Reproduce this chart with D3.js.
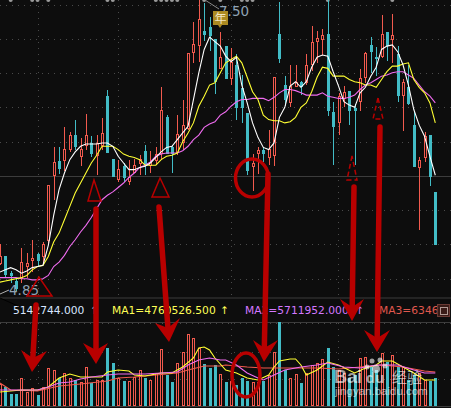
<!DOCTYPE html>
<html>
<head>
<meta charset="utf-8">
<script src="https://cdn.jsdelivr.net/npm/d3@7/dist/d3.min.js"></script>
<style>
  html, body { margin: 0; padding: 0; background: #0d0d0d; overflow: hidden; }
  svg { display: block; }
</style>
</head>
<body>
<div id="chart"></div>
<script>
//values, first bar is index -1 (cut by the left edge)
const opens = [5.10,5.16,5.01,4.94,4.97,5.07,5.13,5.18,5.16,5.31,5.89,6.02,6.03,6.12,6.25,6.07,6.16,6.18,6.07,6.16,6.60,6.04,5.86,5.97,5.83,5.92,6.00,6.11,5.98,6.03,6.09,6.41,6.14,6.10,6.19,6.32,7.00,7.06,7.19,7.22,7.11,6.85,7.05,6.77,6.88,6.67,6.45,5.97,6.09,6.12,6.06,6.07,7.16,6.70,6.55,6.69,6.73,6.73,6.89,7.09,7.11,7.16,6.46,6.37,6.59,6.65,6.49,6.55,6.77,7.06,6.95,6.96,7.18,7.11,6.98,6.61,6.68,6.34,5.97,6.05,6.25,5.74];
const closes = [5.16,5.00,4.99,4.88,5.11,5.10,5.15,5.13,5.27,5.80,6.01,5.96,6.13,6.25,6.15,6.13,6.25,6.09,6.18,6.27,6.10,5.89,5.95,5.87,5.87,5.98,6.04,5.98,6.01,6.08,6.48,6.09,6.09,6.26,6.34,6.99,7.07,7.29,7.16,7.15,6.73,6.95,6.76,6.91,6.50,6.50,5.94,6.00,6.12,6.09,6.13,6.77,6.94,6.57,6.69,6.73,6.69,6.88,7.09,7.12,7.15,6.48,6.33,6.60,6.64,6.48,6.47,6.76,6.99,7.01,6.94,7.16,7.06,7.15,6.61,6.73,6.54,5.97,6.03,6.24,5.88,5.27];
const highs = [5.27,5.16,5.03,4.97,5.24,5.19,5.31,5.19,5.29,5.80,6.14,6.14,6.32,6.28,6.39,6.22,6.44,6.24,6.25,6.40,6.66,6.04,6.03,6.00,6.03,6.04,6.07,6.16,6.11,6.14,6.68,6.43,6.16,6.43,6.57,6.99,7.27,7.50,7.44,7.31,7.11,7.18,7.05,7.03,6.98,6.79,6.45,6.08,6.14,6.14,6.30,6.77,7.45,6.78,6.88,6.88,6.74,6.98,7.23,7.19,7.20,7.48,6.55,6.63,6.69,6.65,6.53,6.84,7.00,7.13,7.04,7.33,7.18,7.34,7.05,6.75,6.88,6.46,6.05,6.28,6.25,5.74];
const lows = [5.08,4.97,4.92,4.85,4.92,4.97,5.02,5.07,5.08,5.28,5.67,5.90,5.93,6.10,6.12,5.97,6.12,6.05,5.89,6.12,6.09,5.87,5.83,5.83,5.80,5.91,5.89,5.89,5.91,5.98,6.03,6.09,5.91,6.07,6.12,6.30,6.90,6.91,7.10,7.01,6.62,6.84,6.76,6.70,6.39,6.36,5.89,5.75,5.90,6.01,5.98,5.97,6.90,6.51,6.50,6.68,6.61,6.70,6.83,6.90,6.97,6.42,5.98,6.25,6.50,6.34,5.98,6.47,6.72,6.81,6.78,6.94,6.92,6.90,6.55,6.29,6.52,5.97,5.40,6.01,5.79,5.27];

const priceMa5 = [5.02,5.04,5.06,5.04,5.01,5.03,5.06,5.07,5.08,5.26,5.53,5.76,5.91,6.03,6.10,6.15,6.17,6.17,6.17,6.18,6.18,6.15,6.06,6.00,5.94,5.94,5.96,5.97,6.00,6.05,6.10,6.14,6.15,6.21,6.27,6.33,6.57,6.81,7.02,7.13,7.09,7.05,6.96,6.91,6.95,6.70,6.54,6.36,6.23,6.14,6.12,6.18,6.41,6.50,6.69,6.73,6.68,6.73,6.86,6.95,6.97,6.96,6.82,6.69,6.55,6.52,6.50,6.63,6.68,6.78,6.86,7.02,7.05,7.06,7.00,6.88,6.70,6.48,6.34,6.24,6.06,5.89];
const priceMa10 = [4.93,4.94,4.95,4.96,4.97,4.99,5.04,5.07,5.08,5.16,5.29,5.37,5.49,5.61,5.73,5.82,5.91,6.00,6.07,6.15,6.15,6.15,6.12,6.08,6.06,6.05,6.03,5.98,5.98,5.98,6.03,6.06,6.07,6.09,6.19,6.27,6.36,6.51,6.60,6.70,6.72,6.81,6.90,6.93,6.96,6.90,6.77,6.64,6.57,6.43,6.39,6.38,6.38,6.36,6.37,6.41,6.50,6.54,6.64,6.77,6.86,6.85,6.78,6.78,6.78,6.75,6.73,6.72,6.70,6.70,6.68,6.75,6.82,6.87,6.87,6.89,6.90,6.75,6.68,6.63,6.54,6.36];
const priceMa20 = [4.97,4.97,4.97,4.97,4.96,4.96,4.95,4.95,4.96,4.99,5.07,5.11,5.17,5.25,5.31,5.38,5.44,5.51,5.59,5.67,5.71,5.74,5.78,5.82,5.87,5.91,5.96,5.98,6.01,6.06,6.08,6.09,6.09,6.09,6.11,6.15,6.21,6.25,6.32,6.35,6.37,6.43,6.46,6.51,6.55,6.57,6.57,6.58,6.58,6.58,6.56,6.59,6.63,6.66,6.66,6.65,6.63,6.61,6.61,6.61,6.63,6.60,6.59,6.58,6.58,6.59,6.61,6.66,6.70,6.72,6.75,6.78,6.79,6.81,6.82,6.82,6.79,6.76,6.70,6.64,6.60,6.54];

//volume in millions
const volumes = [3.99,3.42,2.09,2.09,5.13,2.47,3.23,1.90,3.42,7.03,6.65,5.13,6.08,5.13,4.75,4.37,7.22,4.18,4.75,4.75,10.83,7.98,5.13,4.56,4.56,5.32,6.65,5.13,4.75,6.08,10.64,5.70,4.37,7.98,10.07,13.49,12.73,10.83,7.79,7.03,7.60,5.89,4.37,4.56,3.80,5.13,4.56,4.37,4.37,4.56,5.70,10.07,15.77,6.65,5.13,5.89,4.18,6.08,7.60,7.98,8.74,10.83,7.22,6.65,6.08,5.13,5.70,8.93,9.12,7.22,6.65,9.88,8.17,9.50,7.22,7.22,4.75,5.70,6.08,4.75,4.56,5.13];
const volMa1Bars = [-1,3,6,8,10,12,14,15,18,19,21,23,24,26,28,29,31,33,35,36,37,38,39,41,43,45,47,49,50,51,53,54,55,56,58,60,62,65,67,69,70,72,74,76,78,80];
const volMa1 = [2.47,2.85,2.85,3.42,5.13,5.89,5.32,5.32,5.32,6.27,6.65,6.46,5.70,5.51,5.89,6.08,6.08,7.22,8.93,10.83,11.02,10.45,8.93,6.65,6.08,5.13,4.75,5.70,7.22,8.36,8.74,8.74,7.60,5.70,6.65,8.17,7.60,6.08,7.03,7.60,8.36,8.36,7.22,6.08,4.75,4.75];
const volMa2Bars = [-1,3,6,8,10,12,14,16,19,21,24,26,29,32,34,36,38,40,41,43,45,47,48,50,52,55,58,60,63,66,69,73,76,78,80];
const volMa2 = [2.85,2.85,2.85,3.42,4.18,4.37,4.94,5.32,5.70,5.89,5.89,5.89,6.08,6.27,7.60,8.55,8.93,8.55,8.55,7.60,6.08,5.13,4.75,5.70,6.65,7.22,7.60,7.98,7.22,7.03,7.60,7.60,6.65,6.08,6.08];
const volMa3Bars = [-1,1,6,10,14,19,21,24,28,32,34,37,40,41,45,48,51,55,58,62,66,70,74,78,80];
const volMa3 = [4.18,2.85,2.66,3.61,3.99,4.56,5.13,5.32,5.70,6.08,6.65,7.41,7.41,7.60,7.22,7.03,7.03,7.03,7.03,6.84,7.22,7.60,7.22,6.46,6.27];

//bars that carry a small grey marker at the top edge
const markerBars = [1,5,6,8,19,20,28,29,30,31,32,37,40,44,45,46,60,72];

const legendLabels = ["5142744.000", "MA1=4760526.500", "MA2=5711952.000", "MA3=6346"];

const width = 451, height = 408;
const RED = "#f25a4e", CYAN = "#42bcc6", BG = "#0d0d0d", DARK_RED = "#b80000";

const svg = d3.select("#chart").append("svg")
  .attr("width", width)
  .attr("height", height)
  .style("font-family", "'DejaVu Sans', sans-serif");

svg.append("rect").attr("width", width).attr("height", height).attr("fill", BG);

const x = d3.scaleLinear().domain([-1, 80]).range([-0.07, 435.3]);
const yPrice = d3.scaleLinear().domain([4.85, 7.50]).range([291, -4]);
const yVol = d3.scaleLinear().domain([0, 15.77]).range([405, 322]);

const snap = v => Math.round(v) + 0.5;

// Grid
const grid = svg.append("g").attr("stroke", "#4a4a4a").attr("stroke-dasharray", "1,5");
[5, 39, 73, 107, 142, 210, 244, 279, 323, 352, 379].forEach(gy => {
  grid.append("line").attr("x1", 0).attr("x2", width).attr("y1", gy + 0.5).attr("y2", gy + 0.5);
});
[38, 118, 231, 338].forEach(gx => {
  grid.append("line").attr("x1", gx + 0.5).attr("x2", gx + 0.5).attr("y1", 0).attr("y2", 297);
  grid.append("line").attr("x1", gx + 0.5).attr("x2", gx + 0.5).attr("y1", 323).attr("y2", 405);
});
const rules = svg.append("g").attr("stroke", "#3c3c3c");
[176, 297.5, 322, 406].forEach(ry => {
  rules.append("line").attr("x1", 0).attr("x2", width).attr("y1", ry + 0.5).attr("y2", ry + 0.5);
});

// Top edge markers
svg.append("g").selectAll("circle")
  .data(markerBars)
  .join("circle")
  .attr("cx", d => x(d))
  .attr("cy", 0)
  .attr("r", 2)
  .attr("fill", "#9a9a9a");

// Candles
const candles = svg.append("g").attr("shape-rendering", "crispEdges")
  .selectAll("g")
  .data(opens.map((o, k) => ({bar: k - 1, o: o, c: closes[k], h: highs[k], l: lows[k]})))
  .join("g")
  .attr("stroke", d => d.c >= d.o ? RED : CYAN);

candles.append("line")
  .attr("x1", d => snap(x(d.bar)))
  .attr("x2", d => snap(x(d.bar)))
  .attr("y1", d => yPrice(d.h))
  .attr("y2", d => yPrice(d.l));

candles.append("rect")
  .attr("x", d => snap(x(d.bar)) - 1)
  .attr("width", 2)
  .attr("y", d => Math.round(yPrice(Math.max(d.o, d.c))) + 0.5)
  .attr("height", d => Math.max(1, Math.round(Math.abs(yPrice(d.o) - yPrice(d.c)))))
  .attr("fill", d => d.c >= d.o ? BG : CYAN);

// Price moving averages
const priceLine = d3.line()
  .x((d, k) => x(k - 1))
  .y(d => yPrice(d));

[[priceMa20, "#f06cf0"], [priceMa10, "#ffff33"], [priceMa5, "#ffffff"]].forEach(s => {
  svg.append("path")
    .attr("d", priceLine(s[0]))
    .attr("fill", "none")
    .attr("stroke", s[1])
    .attr("stroke-width", 1.1);
});

// Volume bars
svg.append("g").attr("shape-rendering", "crispEdges")
  .selectAll("rect")
  .data(volumes)
  .join("rect")
  .attr("x", (d, k) => snap(x(k - 1)) - 1)
  .attr("width", 2)
  .attr("y", d => Math.round(yVol(d)) + 0.5)
  .attr("height", d => 405 - Math.round(yVol(d)))
  .attr("fill", (d, k) => closes[k] >= opens[k] ? BG : CYAN)
  .attr("stroke", (d, k) => closes[k] >= opens[k] ? RED : CYAN);

// Volume moving averages
[[volMa3Bars, volMa3, "#f25a4e"], [volMa1Bars, volMa1, "#ffff33"], [volMa2Bars, volMa2, "#f06cf0"]].forEach(s => {
  svg.append("path")
    .attr("d", d3.line().x(d => x(d)).y((d, k) => yVol(s[1][k]))(s[0]))
    .attr("fill", "none")
    .attr("stroke", s[2])
    .attr("stroke-width", 1.1);
});

// Legend strip
const legend = svg.append("g").attr("font-size", 10.7);
legend.append("text").attr("x", 13).attr("y", 314).attr("fill", "#d8e6ff").text(legendLabels[0]);
legend.append("text").attr("x", 90).attr("y", 314).attr("fill", "#ffffff").text("↑");
legend.append("text").attr("x", 112).attr("y", 314).attr("fill", "#ffff55").text(legendLabels[1]);
legend.append("text").attr("x", 220).attr("y", 314).attr("fill", "#ffff55").text("↑");
legend.append("text").attr("x", 245).attr("y", 314).attr("fill", "#d478ff").text(legendLabels[2]);
legend.append("text").attr("x", 355).attr("y", 314).attr("fill", "#d478ff").text("↑");
legend.append("text").attr("x", 379).attr("y", 314).attr("fill", "#e0584e").text(legendLabels[3]);

// Window button at the end of the strip
svg.append("rect").attr("x", 437.5).attr("y", 304.5).attr("width", 12).attr("height", 12)
  .attr("fill", "#3a1c18").attr("stroke", "#6a3a34");
svg.append("rect").attr("x", 440.5).attr("y", 307.5).attr("width", 7).attr("height", 7)
  .attr("fill", "none").attr("stroke", "#b09a94");

// High and low labels
svg.append("line").attr("x1", 205).attr("y1", 0).attr("x2", 219).attr("y2", 9)
  .attr("stroke", "#8a8a8a");
svg.append("text").attr("x", 219).attr("y", 16).attr("font-size", 13.5)
  .attr("fill", "#8fa3b5").text("7.50");
svg.append("path").attr("d", "M213,11H228V25H222L220,28L218,25H213Z").attr("fill", "#ab8a22");
svg.append("text").attr("x", 220.5).attr("y", 23).attr("font-size", 12)
  .attr("text-anchor", "middle").attr("fill", "#f2e6c0")
  .style("font-family", "'Noto Sans CJK SC'").text("年");
svg.append("line").attr("x1", 0).attr("y1", 294).attr("x2", 9).attr("y2", 290)
  .attr("stroke", "#b0b0b0");
svg.append("line").attr("x1", 0).attr("y1", 298).attr("x2", 18).attr("y2", 306)
  .attr("stroke", "#000000");
svg.append("text").attr("x", 9).attr("y", 295).attr("font-size", 13.5)
  .attr("fill", "#8fa3b5").text("4.85");

// Watermark
const mark = svg.append("g").attr("fill", "#ffffff").attr("opacity", 0.6);
mark.append("text").attr("x", 334).attr("y", 383).attr("font-size", 18)
  .attr("font-weight", "bold").style("font-family", "'Liberation Sans'").text("Bai");
mark.append("text").attr("x", 366).attr("y", 383).attr("font-size", 15)
  .attr("font-weight", "bold").style("font-family", "'Liberation Sans'").text("du");
mark.append("text").attr("x", 392).attr("y", 383).attr("font-size", 15)
  .style("font-family", "'Noto Sans CJK SC'").text("经验");
mark.append("text").attr("x", 335).attr("y", 395).attr("font-size", 11.5)
  .style("font-family", "'Liberation Sans'").text("jingyan.baidu.com");
[[367, 367, 2.5], [372, 361, 2.5], [380, 360, 2.5], [385, 366, 2.5], [376, 369, 4]].forEach(p => {
  mark.append("circle").attr("cx", p[0]).attr("cy", p[1]).attr("r", p[2]);
});

// Hand drawn red annotations
const notes = svg.append("g").attr("fill", "none").attr("stroke", DARK_RED);

[[39, 277, 27, 296, 52, 296, null], [94, 180, 88, 201, 101, 201, null], [160, 178, 152, 197, 169, 197, null],
 [378, 98, 373, 119, 383, 119, "5,3"], [352, 156, 347, 180, 357, 180, "5,3"]].forEach(t => {
  notes.append("path")
    .attr("d", "M" + t[0] + "," + t[1] + "L" + t[2] + "," + t[3] + "L" + t[4] + "," + t[5] + "Z")
    .attr("stroke-width", 1.5)
    .attr("stroke-dasharray", t[6]);
});

[[252, 178, 16.5, 19], [246, 375, 14, 22]].forEach(e => {
  notes.append("ellipse")
    .attr("cx", e[0]).attr("cy", e[1]).attr("rx", e[2]).attr("ry", e[3])
    .attr("stroke-width", 3.5);
});

//arrow: shaft start, tip, left wing, right wing
[[36, 305, 32, 372, 21, 350, 47, 351],
 [96, 209, 96, 364, 83, 343, 108, 343],
 [159, 207, 169, 342, 155, 323, 180, 318],
 [268, 174, 264, 362, 253, 340, 278, 340],
 [354, 187, 352, 321, 340, 299, 364, 299],
 [380, 127, 377, 352, 364, 330, 390, 330]].forEach(a => {
  const notchY = a[3] - 14;
  const notchX = a[2] + (a[0] - a[2]) * (a[3] - notchY) / (a[3] - a[1]);
  notes.append("line")
    .attr("x1", a[0]).attr("y1", a[1]).attr("x2", notchX).attr("y2", notchY)
    .attr("stroke-width", 5.5)
    .attr("stroke-linecap", "round");
  notes.append("path")
    .attr("d", "M" + a[2] + "," + a[3] + "L" + a[4] + "," + a[5] + "L" + notchX + "," + notchY +
      "L" + a[6] + "," + a[7] + "Z")
    .attr("fill", DARK_RED)
    .attr("stroke", "none");
});
</script>
</body>
</html>
